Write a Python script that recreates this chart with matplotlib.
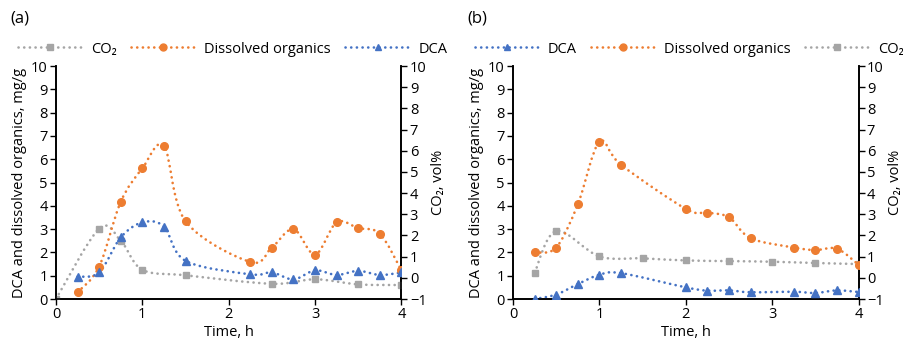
import matplotlib
matplotlib.use('Agg')
import matplotlib.pyplot as plt
import numpy as np
from matplotlib.path import Path
from matplotlib.patches import PathPatch
from matplotlib.lines import Line2D

plt.rcParams['font.family'] = ['Open Sans', 'DejaVu Sans']
plt.rcParams['font.size'] = 10.5

# panel (a)
a_org_t = [0.25, 0.5, 0.75, 1.0, 1.25, 1.5, 2.25, 2.5, 2.75, 3.0, 3.25, 3.5, 3.75, 4.0]
a_org = [0.29, 1.39, 4.17, 5.61, 6.57, 3.34, 1.59, 2.21, 3.0, 1.91, 3.29, 3.04, 2.8, 1.23]
a_dca_t = [0.25, 0.5, 0.75, 1.0, 1.25, 1.5, 2.25, 2.5, 2.75, 3.0, 3.25, 3.5, 3.75, 4.0]
a_dca = [0.96, 1.14, 2.64, 3.29, 3.11, 1.64, 1.06, 1.14, 0.84, 1.23, 1.03, 1.21, 1.03, 1.14]
a_co2_t = [0.0, 0.5, 0.75, 1.0, 1.5, 2.5, 3.0, 3.5, 4.0]
a_co2 = [-1.0, 2.32, 1.75, 0.38, 0.12, -0.28, -0.07, -0.31, -0.34]

# panel (b)
b_org_t = [0.25, 0.5, 0.75, 1.0, 1.25, 2.0, 2.25, 2.5, 2.75, 3.25, 3.5, 3.75, 4.0]
b_org = [2.0, 2.21, 4.06, 6.74, 5.76, 3.87, 3.71, 3.51, 2.61, 2.21, 2.1, 2.16, 1.47]
b_dca_t = [0.25, 0.5, 0.75, 1.0, 1.25, 2.0, 2.25, 2.5, 2.75, 3.25, 3.5, 3.75, 4.0]
b_dca = [0.0, 0.19, 0.64, 1.04, 1.11, 0.5, 0.36, 0.37, 0.29, 0.31, 0.26, 0.37, 0.3]
b_co2_t = [0.25, 0.5, 1.0, 1.5, 2.0, 2.5, 3.0, 3.5, 4.0]
b_co2 = [0.24, 2.21, 1.01, 0.92, 0.82, 0.79, 0.76, 0.70, 0.65]

orange = '#ED7D31'
blue = '#4472C4'
gray = '#A5A5A5'
dots = (0, (0.05, 2.1))
lw = 1.9


def smooth_path(x, y):
    # bezier curve through the points, like a smoothed spreadsheet line
    x = np.asarray(x, float)
    y = np.asarray(y, float)
    verts = [(x[0], y[0])]
    codes = [Path.MOVETO]
    n = len(x)
    for i in range(n - 1):
        x0, y0 = (x[i - 1], y[i - 1]) if i > 0 else (x[i], y[i])
        x3, y3 = (x[i + 2], y[i + 2]) if i + 2 < n else (x[i + 1], y[i + 1])
        c1 = (x[i] + (x[i + 1] - x0) / 6, y[i] + (y[i + 1] - y0) / 6)
        c2 = (x[i + 1] - (x3 - x[i]) / 6, y[i + 1] - (y3 - y[i]) / 6)
        verts += [c1, c2, (x[i + 1], y[i + 1])]
        codes += [Path.CURVE4] * 3
    return Path(verts, codes)


def series(ax, t, v, color, marker, ms):
    ax.add_patch(PathPatch(smooth_path(t, v), fill=False, edgecolor=color, lw=lw,
                           linestyle=dots, capstyle='round', zorder=2))
    ax.plot(t, v, ls='none', marker=marker, color=color, ms=ms, zorder=3)


def handle(color, marker, ms):
    return Line2D([0], [0], color=color, lw=lw, ls=dots, dash_capstyle='round',
                  marker=marker, ms=ms - 0.5)


fig = plt.figure(figsize=(9.04, 3.48), dpi=100)

panels = [
    (0.0619, '(a)', a_org_t, a_org, a_dca_t, a_dca, a_co2_t, a_co2, ['co2', 'org', 'dca'], 0.020),
    (0.5675, '(b)', b_org_t, b_org, b_dca_t, b_dca, b_co2_t, b_co2, ['dca', 'org', 'co2'], 0.525),
]

for x0, tag, ot, ov, dt, dv, ct, cv, order, lx in panels:
    ax = fig.add_axes([x0, 0.1408, 0.3822, 0.6695])
    ax2 = ax.twinx()
    series(ax, ot, ov, orange, 'o', 5.5)
    series(ax, dt, dv, blue, '^', 5.5)
    series(ax2, ct, cv, gray, 's', 5)
    ax.set_zorder(ax2.get_zorder() + 1)
    ax.patch.set_visible(False)

    ax.set_xlim(0, 4)
    ax.set_ylim(0, 10)
    ax2.set_ylim(-1, 10)
    ax.set_xticks([0, 1, 2, 3, 4])
    ax.set_yticks(range(0, 11))
    ax2.set_yticks(range(-1, 11))
    ax.set_xlabel('Time, h', labelpad=2)
    ax.set_ylabel('DCA and dissolved organics, mg/g', labelpad=3)
    ax2.set_ylabel('CO₂, vol%', labelpad=3)
    for a in (ax, ax2):
        a.spines['top'].set_visible(False)
        a.tick_params(direction='out', length=4, width=1, pad=2)
        for s in a.spines.values():
            s.set_linewidth(1.2)

    fig.text(x0 - 0.05, 0.935, tag, fontsize=12)

    h = {'co2': (handle(gray, 's', 5), 'CO₂'),
         'org': (handle(orange, 'o', 5.5), 'Dissolved organics'),
         'dca': (handle(blue, '^', 5.5), 'DCA')}
    fig.legend([h[k][0] for k in order], [h[k][1] for k in order],
               loc='center left', bbox_to_anchor=(lx, 0.859), ncol=3,
               frameon=False, handlelength=4.4, columnspacing=1.0, handletextpad=0.6,
               borderaxespad=0, borderpad=0, fontsize=10.5)

fig.savefig('out.png', dpi=100)
